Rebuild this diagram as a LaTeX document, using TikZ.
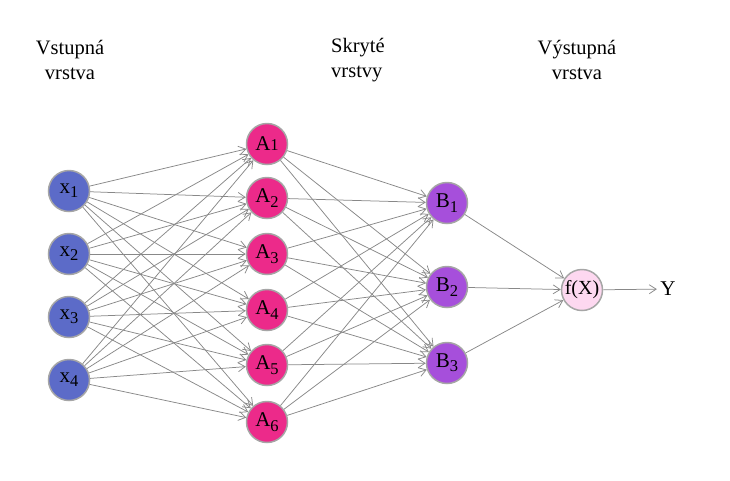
\documentclass[tikz,border=0pt]{standalone}
\usepackage{fontspec}
\setmainfont{Liberation Serif}
\newfontfamily\tmsfont{Liberation Serif}
\usetikzlibrary{arrows.meta}
\definecolor{inblue}{HTML}{5C6BC8}
\definecolor{hidpink}{HTML}{EC2A8A}
\definecolor{hidpurple}{HTML}{A64FDB}
\definecolor{outpink}{HTML}{FDD8F0}
\definecolor{ringgray}{HTML}{A6A6A6}
\definecolor{edgegray}{HTML}{888888}
\newcommand\subx[1]{\raisebox{-0.45ex}{\fontsize{16.5}{16.5}\selectfont #1}}
\tikzset{
  neuron/.style={circle, draw=ringgray, line width=1.5pt, minimum size=41pt, inner sep=0pt,
    font=\tmsfont\fontsize{21}{21}\selectfont},
  innode/.style={neuron, fill=inblue},
  hidA/.style={neuron, fill=hidpink},
  hidB/.style={neuron, fill=hidpurple},
  outnode/.style={neuron, fill=outpink, font=\tmsfont\fontsize{20}{20}\selectfont},
  conn/.style={draw=edgegray, line width=0.75pt, -{Straight Barb[length=7pt,width=9pt]}},
  lbl/.style={font=\tmsfont\fontsize{20.5}{25}\selectfont, align=center}
}
\begin{document}
\begin{tikzpicture}[x=1pt,y=-1pt]
\useasboundingbox (0,0) rectangle (730,480);
% labels
\node[lbl] (l1) at (70,60) {Vstupná\\vrstva};
\node[lbl, align=left] (l2) at (358,60) {Skryté\\vrstvy};
\node[lbl] (l3) at (577,60) {Výstupná\\vrstva};
% input
\node[innode] (x1) at (69,191) {x\subx{1}};
\node[innode] (x2) at (69,254) {x\subx{2}};
\node[innode] (x3) at (69,317) {x\subx{3}};
\node[innode] (x4) at (69,380) {x\subx{4}};
% hidden A
\node[hidA] (a1) at (267,144) {A{\fontsize{16.5}{16.5}\selectfont 1}};
\node[hidA] (a2) at (267,198) {A\subx{2}};
\node[hidA] (a3) at (267,254) {A\subx{3}};
\node[hidA] (a4) at (267,310) {A\subx{4}};
\node[hidA] (a5) at (267,365) {A\subx{5}};
\node[hidA] (a6) at (267,422) {A\subx{6}};
% hidden B
\node[hidB] (b1) at (447,203) {B\subx{1}};
\node[hidB] (b2) at (447,287) {B\subx{2}};
\node[hidB] (b3) at (447,363) {B\subx{3}};
% output
\node[outnode] (f) at (582,290) {f(X)};
\node[font=\tmsfont\fontsize{21}{21}\selectfont] (y) at (668,289) {Y};
% connections
\foreach \i in {1,...,4}{
  \foreach \j in {1,...,6}{
    \draw[conn] (x\i) -- (a\j);
  }
}
\foreach \j in {1,...,6}{
  \foreach \k in {1,...,3}{
    \draw[conn] (a\j) -- (b\k);
  }
}
\foreach \k in {1,...,3}{
  \draw[conn] (b\k) -- (f);
}
\draw[conn] (f) -- (y);
\end{tikzpicture}
\end{document}
